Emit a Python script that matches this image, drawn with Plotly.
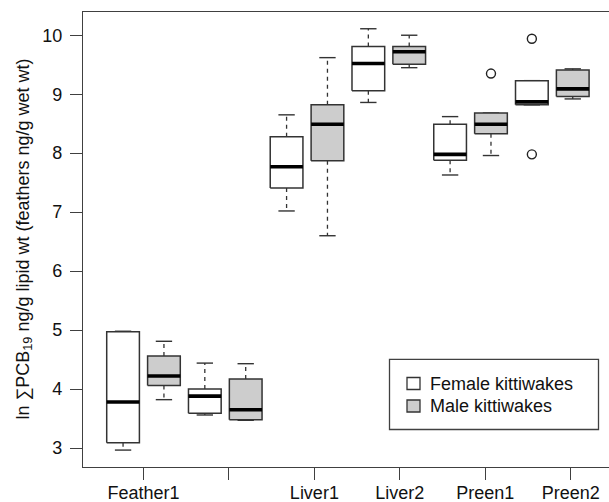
import plotly.graph_objects as go

# ---- data ----
groups = ["Feather1", "Feather2", "Liver1", "Liver2", "Preen1", "Preen2"]
tick_labels = ["Feather1", "", "Liver1", "Liver2", "Preen1", "Preen2"]

female_lo = [2.965, 3.56, 7.02, 8.86, 7.63, 8.82]
female_q1 = [3.09, 3.59, 7.41, 9.06, 7.88, 8.82]
female_med = [3.78, 3.88, 7.77, 9.52, 7.98, 8.87]
female_q3 = [4.97, 4.00, 8.28, 9.81, 8.49, 9.23]
female_hi = [4.98, 4.44, 8.65, 10.11, 8.62, 9.23]
female_out_group = ["Preen2", "Preen2"]
female_out_val = [9.94, 7.98]

male_lo = [3.82, 3.47, 6.60, 9.45, 7.96, 8.92]
male_q1 = [4.06, 3.48, 7.87, 9.51, 8.33, 8.96]
male_med = [4.22, 3.65, 8.49, 9.72, 8.49, 9.09]
male_q3 = [4.56, 4.17, 8.82, 9.81, 8.68, 9.41]
male_hi = [4.81, 4.43, 9.62, 10.00, 8.68, 9.43]
male_out_group = ["Preen1"]
male_out_val = [9.35]

series_names = ["Female kittiwakes", "Male kittiwakes"]
series_fill = ["#ffffff", "#cdcdcd"]

# ---- style ----
FONT = "Liberation Sans, Arial, Helvetica, sans-serif"
FS = 18
EDGE = "#333333"
AX = "#404040"
HALF_BOX = 0.4
HALF_CAP = 0.2

fig = go.Figure()

series = [
    (female_lo, female_q1, female_med, female_q3, female_hi, female_out_group, female_out_val, 0),
    (male_lo, male_q1, male_med, male_q3, male_hi, male_out_group, male_out_val, 1),
]

for lo, q1, med, q3, hi, og, ov, s in series:
    pos = [2 * i + 1 + s for i in range(len(groups))]
    # whiskers (dashed)
    wx, wy = [], []
    for p, a, b, c, d in zip(pos, lo, q1, q3, hi):
        wx += [p, p, None, p, p, None]
        wy += [b, a, None, c, d, None]
    fig.add_trace(go.Scatter(x=wx, y=wy, mode="lines", showlegend=False, hoverinfo="skip",
                             line=dict(color=EDGE, width=1.3, dash="4px,4px")))
    # staples
    cx, cy = [], []
    for p, a, d in zip(pos, lo, hi):
        cx += [p - HALF_CAP, p + HALF_CAP, None, p - HALF_CAP, p + HALF_CAP, None]
        cy += [a, a, None, d, d, None]
    fig.add_trace(go.Scatter(x=cx, y=cy, mode="lines", showlegend=False, hoverinfo="skip",
                             line=dict(color=EDGE, width=1.4)))
    # boxes
    for g, p, b, c in zip(groups, pos, q1, q3):
        fig.add_trace(go.Scatter(
            x=[p - HALF_BOX, p + HALF_BOX, p + HALF_BOX, p - HALF_BOX, p - HALF_BOX],
            y=[b, b, c, c, b], mode="lines", fill="toself", fillcolor=series_fill[s],
            line=dict(color=EDGE, width=1.5), showlegend=False,
            name=f"{series_names[s]} – {g}", hoverinfo="name"))
    # medians
    mx, my = [], []
    for p, m in zip(pos, med):
        mx += [p - HALF_BOX, p + HALF_BOX, None]
        my += [m, m, None]
    fig.add_trace(go.Scatter(x=mx, y=my, mode="lines", showlegend=False, hoverinfo="skip",
                             line=dict(color="#000000", width=3.6)))
    # outliers
    ox = [2 * groups.index(g) + 1 + s for g in og]
    fig.add_trace(go.Scatter(x=ox, y=ov, mode="markers", showlegend=False,
                             marker=dict(symbol="circle-open", size=9, color="#222222",
                                         line=dict(width=1.4))))

# ---- axes ----
n_box = 2 * len(groups)
tick_pos = [1.5 + k * (n_box - 1.5 - 0.05) / (len(groups) - 1) for k in range(len(groups))]
lab_pos = [t for t, l in zip(tick_pos, tick_labels) if l]
lab_txt = [l for l in tick_labels if l]
blank_pos = [t for t, l in zip(tick_pos, tick_labels) if not l]

fig.update_xaxes(range=[0.02, 12.887], tickmode="array", tickvals=lab_pos, ticktext=lab_txt,
                 showline=True, linecolor=AX, linewidth=1.3, mirror=True,
                 ticks="outside", ticklen=12, tickwidth=1.3, tickcolor=AX,
                 ticklabelstandoff=-3,
                 minor=dict(tickmode="array", tickvals=blank_pos, ticks="outside",
                            ticklen=12, tickwidth=1.3, tickcolor=AX, showgrid=False),
                 showgrid=False, zeroline=False, automargin=False,
                 tickfont=dict(family=FONT, size=FS, color="#111111"))
fig.update_yaxes(range=[2.678, 10.394], tickvals=[3, 4, 5, 6, 7, 8, 9, 10],
                 showline=True, linecolor=AX, linewidth=1.3,
                 ticks="outside", ticklen=12, tickwidth=1.3, tickcolor=AX,
                 ticklabelstandoff=4, automargin=False,
                 showgrid=False, zeroline=False,
                 tickfont=dict(family=FONT, size=FS, color="#111111"))

# y-axis title
fig.add_annotation(xref="paper", yref="paper", x=0, y=0.5, xshift=-59,
                   xanchor="center", yanchor="middle", textangle=-90, showarrow=False,
                   text="ln ∑PCB<sub>19</sub> ng/g lipid wt (feathers ng/g wet wt)",
                   font=dict(family=FONT, size=FS, color="#111111"))

# ---- legend (drawn box) ----
PW, PH, PL, PB = 526.0, 455.0, 83.0, 467.0
def px(x):
    return (x - PL) / PW
def py(y):
    return (PB - y) / PH

fig.add_shape(type="rect", xref="paper", yref="paper",
              x0=px(389.5), x1=px(598.5), y0=py(429.5), y1=py(359.3),
              line=dict(color=AX, width=1.3), fillcolor="white", layer="above")
for s, yc in enumerate([383.5, 406.0]):
    fig.add_shape(type="rect", xref="paper", yref="paper",
                  x0=px(407), x1=px(420), y0=py(yc + 6), y1=py(yc - 6),
                  line=dict(color=EDGE, width=1.3), fillcolor=series_fill[s], layer="above")
    fig.add_annotation(xref="paper", yref="paper", x=px(428), y=py(yc),
                       xanchor="left", yanchor="middle", showarrow=False,
                       text=series_names[s], font=dict(family=FONT, size=FS, color="#111111"))

fig.update_layout(width=609, height=502, margin=dict(l=83, r=0, t=12, b=35),
                  paper_bgcolor="white", plot_bgcolor="white", showlegend=False)

fig.write_html("out.html", config={"displayModeBar": False},
               post_script="document.body.style.margin='0';document.body.style.overflow='hidden';")
